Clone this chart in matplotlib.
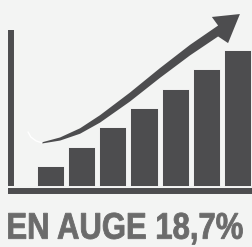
import matplotlib
matplotlib.use('Agg')
import matplotlib.pyplot as plt
import numpy as np
from matplotlib.textpath import TextPath
from matplotlib.font_manager import FontProperties
from matplotlib.patches import PathPatch
from matplotlib.transforms import Affine2D, IdentityTransform

# Données
positions = [1, 2, 3, 4, 5, 6, 7]
values = [1, 2, 3, 4, 5, 6, 7]
label = "EN AUGE 18,7%"

# Flèche (coordonnées en unités des données)
arrow_x = [0.73, 1.31, 1.95, 2.59, 3.55, 4.51, 5.48, 6.38]
arrow_y = [2.21, 2.41, 2.82, 3.44, 4.56, 5.79, 6.97, 7.95]
arrow_hw = [0.03, 0.08, 0.14, 0.19, 0.23, 0.25, 0.27, 0.28]
head = [(6.18, 8.67), (7.08, 8.82), (6.70, 7.33)]
tail_x = [0.28, 0.37, 0.54, 0.73]
tail_y = [2.77, 2.51, 2.31, 2.21]

dark = '#4d4d4f'
bg = '#f3f4f3'

fig = plt.figure(figsize=(2.53, 2.47), dpi=100, facecolor=bg)
ax = fig.add_axes([0, 0, 1, 1])
ax.set_facecolor(bg)
ax.set_xlim(-0.62, 7.50)
ax.set_ylim(-3.13, 9.54)
ax.axis('off')

ax.bar(positions, values, width=0.87, color=dark, edgecolor='white', linewidth=0.6)

# axes
ax.plot([-0.28, -0.28], [0, 8.0], color=dark, lw=4.3, solid_capstyle='butt')
ax.plot([-0.36, 7.5], [-0.26, -0.26], color=dark, lw=4.3, solid_capstyle='butt')

# flèche
ax_ = np.array(arrow_x)
ay = np.array(arrow_y)
hw = np.array(arrow_hw)
px = np.concatenate([ax_, [head[0][0], head[1][0], head[2][0]], ax_[::-1]])
py = np.concatenate([ay + hw, [head[0][1], head[1][1], head[2][1]], (ay - hw)[::-1]])
ax.fill(px, py, color=dark, lw=0)
ax.plot(tail_x, tail_y, color='white', lw=1.0, solid_capstyle='round')

# texte condensé : police étirée pour imiter une police étroite
fp = FontProperties(family='Liberation Sans', weight='bold')
tp = TextPath((0, 0), label, size=36, prop=fp)
ext = tp.get_extents()
cap = TextPath((0, 0), "E", size=36, prop=fp).get_extents()
sx = 234 / ext.width
sy = 25.5 / cap.height
tr = Affine2D().translate(-ext.x0, 0).scale(sx, sy).translate(8.5, 247 - 238.7)
fig.patches.append(PathPatch(tr.transform_path(tp), transform=IdentityTransform(),
                             facecolor='#6b6b6b', edgecolor='#6b6b6b', linewidth=0.6,
                             figure=fig))

fig.savefig('out.png', dpi=100, facecolor=bg)
